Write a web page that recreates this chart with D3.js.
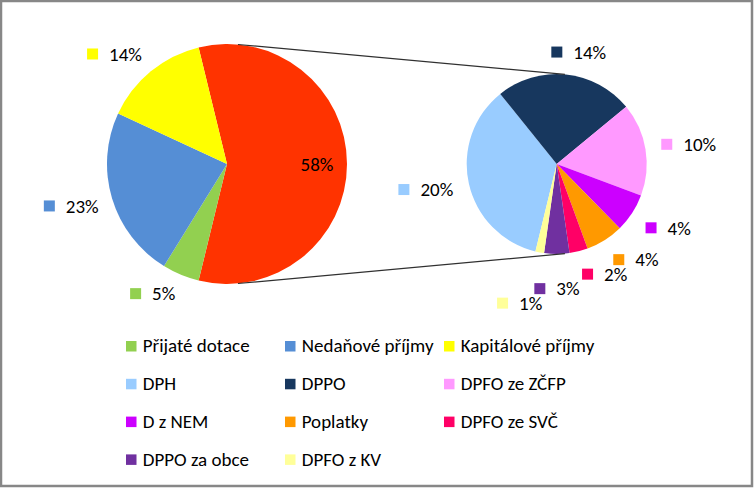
<!DOCTYPE html>
<html><head><meta charset="utf-8">
<script src="https://cdn.jsdelivr.net/npm/d3@7"></script>
<style>
body{margin:0;background:#fff}
svg{display:block}
text{font-family: Carlito, Calibri, Lato, sans-serif; font-size:19px; fill:#000}
</style>
</head><body>
<svg id="c" width="754" height="489"></svg>
<script>
// ---- data ----
const mainCategories = ["Přijaté dotace", "Nedaňové příjmy", "Kapitálové příjmy"];
const mainValues = [5.0, 23.1, 14.3];
const mainColors = ["#92D050", "#558ED5", "#FFFF00"];
const otherColor = "#FF3300";
const subCategories = ["DPH", "DPPO", "DPFO ze ZČFP", "D z NEM", "Poplatky", "DPFO ze SVČ", "DPPO za obce", "DPFO z KV"];
const subValues = [20.4, 14.3, 9.6, 4.0, 3.9, 1.9, 2.6, 0.9];
const subColors = ["#99CCFF", "#17375E", "#FF99FF", "#CC00FF", "#FF9900", "#FF0066", "#7030A0", "#FFFF99"];

// ---- layout ----
const svg = d3.select("#c");
svg.append("rect").attr("x", 1).attr("y", 1).attr("width", 751).attr("height", 485)
  .attr("fill", "#fff").attr("stroke", "#878787").attr("stroke-width", 2.5);

const otherTotal = d3.sum(subValues);
const total = d3.sum(mainValues) + otherTotal;
const pct = v => Math.round(v / total * 100) + "%";

const c1 = {x: 227, y: 164, r: 120, gap: 14};
const c2 = {x: 556.7, y: 164, r: 90, gap: 16};

const mainData = [{name: "other", value: otherTotal, color: otherColor}]
  .concat(mainCategories.map((n, i) => ({name: n, value: mainValues[i], color: mainColors[i]})));
const subData = subCategories.map((n, i) => ({name: n, value: subValues[i], color: subColors[i]}));

const otherAngle = otherTotal / total * 2 * Math.PI;
const start1 = Math.PI / 2 - otherAngle / 2;
const start2 = Math.PI / 2 + otherAngle / 2;
const pie1 = d3.pie().sort(null).value(d => d.value).startAngle(start1).endAngle(start1 + 2 * Math.PI);
const pie2 = d3.pie().sort(null).value(d => d.value).startAngle(start2).endAngle(start2 + 2 * Math.PI);
const arcs1 = pie1(mainData);
const arcs2 = pie2(subData);

const g1 = svg.append("g").attr("transform", `translate(${c1.x},${c1.y})`);
g1.selectAll("path").data(arcs1).join("path")
  .attr("d", d3.arc().innerRadius(0).outerRadius(c1.r))
  .attr("fill", d => d.data.color);
const g2 = svg.append("g").attr("transform", `translate(${c2.x},${c2.y})`);
g2.selectAll("path").data(arcs2).join("path")
  .attr("d", d3.arc().innerRadius(0).outerRadius(c2.r))
  .attr("fill", d => d.data.color);

// connector lines (outer tangents)
const dist = c2.x - c1.x;
const phi = Math.asin((c1.r - c2.r) / dist);
[-1, 1].forEach(s => {
  svg.append("line")
    .attr("x1", c1.x + c1.r * Math.sin(phi)).attr("y1", c1.y + s * c1.r * Math.cos(phi))
    .attr("x2", c2.x + c2.r * Math.sin(phi)).attr("y2", c2.y + s * c2.r * Math.cos(phi))
    .attr("stroke", "#303030").attr("stroke-width", 1.2);
});

// inside label for the split slice
const oa = arcs1[0];
const om = (oa.startAngle + oa.endAngle) / 2;
svg.append("text")
  .attr("x", c1.x + 0.75 * c1.r * Math.sin(om))
  .attr("y", c1.y - 0.75 * c1.r * Math.cos(om) + 6.8)
  .attr("text-anchor", "middle")
  .text(pct(oa.data.value));

// outside labels with key squares
const clamp = v => Math.max(-1, Math.min(1, v));
const xOverlap = (a, b) => !(a.x + a.w + 4 < b.x || b.x + b.w + 4 < a.x);
function outsideLabels(arcs, c) {
  const placed = [];
  arcs.forEach(d => {
    const a = (d.startAngle + d.endAngle) / 2;
    const sa = Math.sin(a), ca = Math.cos(a);
    const sx = clamp(4 * sa), sy = clamp(2 * ca);
    const t = svg.append("text").text(pct(d.data.value));
    const w = 22 + t.node().getComputedTextLength(), h = 12.5;
    const R = c.r + c.gap;
    const px = c.x + R * sa, py = c.y - R * ca;
    const box = {x: px - w * (1 - sx) / 2, y: py - h * (1 + sy) / 2, w, h, lower: ca < 0};
    const prev = placed[placed.length - 1];
    // stack neighbouring labels in the lower half like a staircase
    if (prev && box.lower && prev.lower && xOverlap(box, prev) && box.y < prev.y + h + 2) {
      box.y = prev.y + h + 2;
    }
    placed.push(box);
    svg.append("rect").attr("x", box.x).attr("y", box.y + 0.5).attr("width", 11).attr("height", 11)
      .attr("fill", d.data.color);
    t.attr("x", box.x + 22).attr("y", box.y + 12.8);
  });
}
outsideLabels(arcs1.slice(1), c1);
outsideLabels(arcs2, c2);

// legend
const legendItems = mainData.slice(1).concat(subData);
const lx0 = 126, colW = 159, ly0 = 352.3, rowH = 37.8;
const lg = svg.append("g");
legendItems.forEach((d, i) => {
  const col = i % 3, row = Math.floor(i / 3);
  const x = lx0 + col * colW, y = ly0 + row * rowH;
  lg.append("rect").attr("x", x).attr("y", y - 11.3).attr("width", 10.5).attr("height", 10.5).attr("fill", d.color);
  lg.append("text").attr("x", x + 16.7).attr("y", y).text(d.name);
});
</script>
</body></html>
